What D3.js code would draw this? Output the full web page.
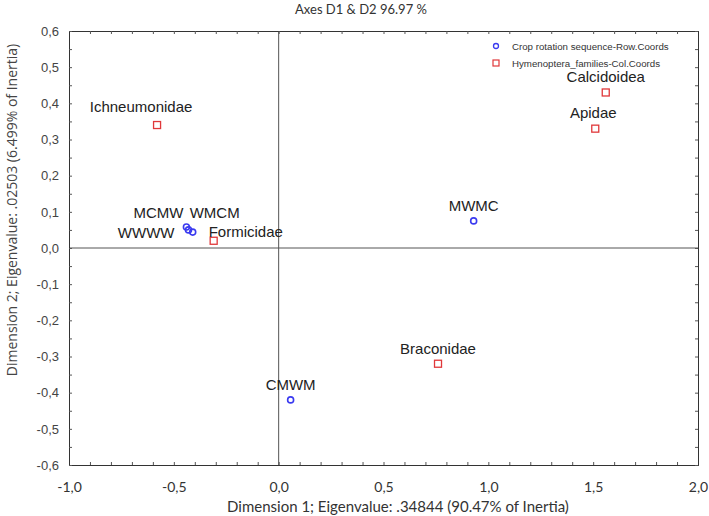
<!DOCTYPE html>
<html><head><meta charset="utf-8">
<script src="https://cdn.jsdelivr.net/npm/d3@7"></script>
<style>body{margin:0;background:#fff}svg{display:block}</style>
</head><body>
<svg id="chart" width="709" height="516"></svg>
<script>
// ---- data ----
const rowNames = ["MCMW", "WMCM", "WWWW", "MWMC", "CMWM"];
const rowDim1  = [-0.44, -0.41, -0.43, 0.93, 0.057];
const rowDim2  = [0.058, 0.044, 0.05, 0.075, -0.42];
const colNames = ["Ichneumonidae", "Calcidoidea", "Apidae", "Formicidae", "Braconidae"];
const colDim1  = [-0.58, 1.56, 1.51, -0.31, 0.76];
const colDim2  = [0.34, 0.43, 0.33, 0.02, -0.32];
const xTickValues = [-1.0, -0.5, 0.0, 0.5, 1.0, 1.5, 2.0];
const yTickValues = [-0.6, -0.5, -0.4, -0.3, -0.2, -0.1, 0.0, 0.1, 0.2, 0.3, 0.4, 0.5, 0.6];
const legendLabels = ["Crop rotation sequence-Row.Coords", "Hymenoptera_families-Col.Coords"];
const titleText = "Axes D1 & D2 96.97 %";
const xTitle = "Dimension 1; Eigenvalue:  .34844 (90.47% of Inertia)";
const yTitle = "Dimension 2; Eigenvalue: .02503 (6.499% of Inertia)";

// ---- layout ----
const svg = d3.select("#chart");
const L = 69, R = 698, T = 31, B = 465;
const x = d3.scaleLinear().domain([-1, 2]).range([L, R]);
const y = d3.scaleLinear().domain([-0.6, 0.6]).range([B, T]);
const fmt = v => d3.format(".1f")(v).replace(".", ",").replace("−", "-");

// label placement (layout only)
const labelPlace = {
  "MCMW": {a: "middle", dx: -28, dy: -9},
  "WMCM": {a: "middle", dx: 22, dy: -14},
  "WWWW": {a: "end", dx: -14, dy: 8},
  "Formicidae": {a: "start", dx: -5, dy: -4},
  "Ichneumonidae": {a: "middle", dx: -16, dy: -13},
  "Apidae": {a: "middle", dx: -2, dy: -11}
};
const defPlace = {a: "middle", dx: 0, dy: -10};

// zero lines
svg.append("line").attr("x1", x(0)).attr("x2", x(0)).attr("y1", T).attr("y2", B)
  .attr("stroke", "#555").attr("stroke-width", 1);
svg.append("line").attr("x1", L).attr("x2", R).attr("y1", y(0)).attr("y2", y(0))
  .attr("stroke", "#555").attr("stroke-width", 1);

// axes with inward minor ticks
const xMinor = d3.range(-10, 21).map(i => i / 10);
const yMinor = d3.range(-12, 13).map(i => i / 20);
const gx = svg.append("g").attr("transform", `translate(0,${B})`)
  .call(d3.axisBottom(x).tickValues(xMinor).tickSize(-3).tickFormat(""));
const gx2 = svg.append("g").attr("transform", `translate(0,${T})`)
  .call(d3.axisTop(x).tickValues(xMinor).tickSize(-3).tickFormat(""));
const gy = svg.append("g").attr("transform", `translate(${L},0)`)
  .call(d3.axisLeft(y).tickValues(yMinor).tickSize(-3).tickFormat(""));
const gy2 = svg.append("g").attr("transform", `translate(${R},0)`)
  .call(d3.axisRight(y).tickValues(yMinor).tickSize(-3).tickFormat(""));
[gx, gx2, gy, gy2].forEach(g => {
  g.selectAll("path.domain").attr("stroke", "#333").attr("stroke-width", 1);
  g.selectAll(".tick line").attr("stroke", "#555");
});

// tick labels
const gxl = svg.append("g").attr("transform", `translate(0,${B})`)
  .call(d3.axisBottom(x).tickValues(xTickValues).tickSize(0).tickPadding(17).tickFormat(fmt));
gxl.select("path.domain").remove();
gxl.selectAll("text").attr("font-family", "Lato, 'Open Sans', sans-serif").attr("font-size", 14).attr("fill", "#333");
const gyl = svg.append("g").attr("transform", `translate(${L},0)`)
  .call(d3.axisLeft(y).tickValues(yTickValues).tickSize(0).tickPadding(10).tickFormat(fmt));
gyl.select("path.domain").remove();
gyl.selectAll("text").attr("font-family", "'Liberation Sans', Arial, sans-serif").attr("font-size", 13).attr("fill", "#444");

// titles
svg.append("text").attr("x", 361).attr("y", 14).attr("text-anchor", "middle")
  .attr("font-family", "Lato, sans-serif").attr("font-size", 13).attr("fill", "#333").text(titleText);
svg.append("text").attr("x", 398).attr("y", 512).attr("text-anchor", "middle")
  .attr("font-family", "Lato, sans-serif").attr("font-size", 15).attr("fill", "#333").text(xTitle);
svg.append("text").attr("transform", `translate(17,210) rotate(-90)`).attr("text-anchor", "middle")
  .attr("font-family", "'Open Sans', sans-serif").attr("font-size", 14).attr("fill", "#444").text(yTitle);

// points
const rows = rowNames.map((n, i) => ({n, x: rowDim1[i], y: rowDim2[i]}));
const cols = colNames.map((n, i) => ({n, x: colDim1[i], y: colDim2[i]}));
const blue = "#3a3af0", red = "#e0383a";

svg.append("g").selectAll("circle").data(rows).join("circle")
  .attr("cx", d => x(d.x)).attr("cy", d => y(d.y)).attr("r", 3)
  .attr("fill", "none").attr("stroke", blue).attr("stroke-width", 1.6);
svg.append("g").selectAll("rect").data(cols).join("rect")
  .attr("x", d => x(d.x) - 3.5).attr("y", d => y(d.y) - 3.5).attr("width", 7).attr("height", 7)
  .attr("fill", "none").attr("stroke", red).attr("stroke-width", 1.3);

svg.append("g").selectAll("text").data(rows.concat(cols)).join("text")
  .attr("x", d => x(d.x) + (labelPlace[d.n] || defPlace).dx)
  .attr("y", d => y(d.y) + (labelPlace[d.n] || defPlace).dy)
  .attr("text-anchor", d => (labelPlace[d.n] || defPlace).a)
  .attr("font-family", "'Liberation Sans', Arial, sans-serif").attr("font-size", 15)
  .attr("fill", "#222").text(d => d.n);

// legend
const lg = svg.append("g");
legendLabels.forEach((t, i) => {
  const ly = 46 + i * 17;
  if (i === 0) lg.append("circle").attr("cx", 496).attr("cy", ly).attr("r", 2.5)
    .attr("fill", "none").attr("stroke", blue).attr("stroke-width", 1.3);
  else lg.append("rect").attr("x", 493).attr("y", ly - 3).attr("width", 6).attr("height", 6)
    .attr("fill", "none").attr("stroke", red).attr("stroke-width", 1.2);
  lg.append("text").attr("x", 512).attr("y", ly + 4).attr("font-family", "'Liberation Sans', Arial, sans-serif")
    .attr("font-size", 9.7).attr("fill", "#333").text(t);
});
</script>
</body></html>
